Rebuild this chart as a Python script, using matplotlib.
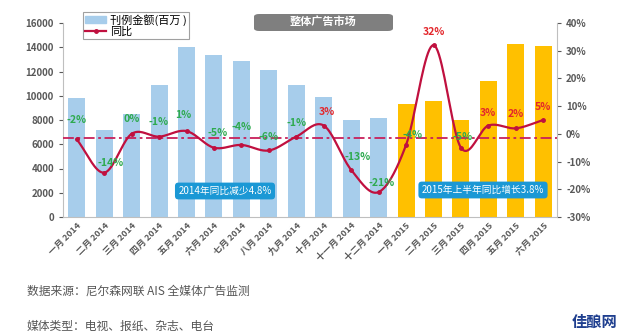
import matplotlib
matplotlib.use("Agg")
import matplotlib.pyplot as plt
import numpy as np
from matplotlib.patches import Patch, FancyBboxPatch
from matplotlib.lines import Line2D

plt.rcParams['font.family'] = ['Noto Sans CJK SC', 'DejaVu Sans']

# 数据
months = ['一月 2014', '二月 2014', '三月 2014', '四月 2014', '五月 2014', '六月 2014',
          '七月 2014', '八月 2014', '九月 2014', '十月 2014', '十一月 2014', '十二月 2014',
          '一月 2015', '二月 2015', '三月 2015', '四月 2015', '五月 2015', '六月 2015']
amount = [9800, 7200, 8500, 10900, 14000, 13400, 12900, 12100, 10900,
          9900, 8000, 8200, 9300, 9600, 8000, 11200, 14300, 14100]
yoy = [-2, -14, 0, -1, 1, -5, -4, -6, -1, 3, -13, -21, -4, 32, -5, 3, 2, 5]
yoy_labels = ['-2%', '-14%', '0%', '-1%', '1%', '-5%', '-4%', '-6%', '-1%', '3%',
              '-13%', '-21%', '-4%', '32%', '-5%', '3%', '2%', '5%']
year = [2014] * 12 + [2015] * 6

# 标签偏移 (像素)
lab_dx = [0, 6, 0, 0, -3, 4, 0, 0, 0, 3, 6, 3, 7, 0, 2, 0, 0, 0]
lab_dy = [19, 10, 15, 15, 16, 15, 18, 13, 14, 14, 13, 9, 10, 13, 11, 13, 14, 13]

blue = '#A7CDEB'
gold = '#FFC000'
line_c = '#C0103F'


def smooth(x, y, n=20):
    # Catmull-Rom 平滑曲线 (类似 Excel 平滑线)
    x = np.asarray(x, float)
    y = np.asarray(y, float)
    px = np.concatenate([[2 * x[0] - x[1]], x, [2 * x[-1] - x[-2]]])
    py = np.concatenate([[2 * y[0] - y[1]], y, [2 * y[-1] - y[-2]]])
    xs, ys = [], []
    t = np.linspace(0, 1, n, endpoint=False)
    for i in range(1, len(px) - 2):
        for p, out in ((px, xs), (py, ys)):
            p0, p1, p2, p3 = p[i - 1], p[i], p[i + 1], p[i + 2]
            out.extend(0.5 * ((2 * p1) + (-p0 + p2) * t
                              + (2 * p0 - 5 * p1 + 4 * p2 - p3) * t ** 2
                              + (-p0 + 3 * p1 - 3 * p2 + p3) * t ** 3))
    xs.append(x[-1])
    ys.append(y[-1])
    return np.array(xs), np.array(ys)


fig = plt.figure(figsize=(6.4, 3.35), dpi=100)
ax = fig.add_axes([63 / 640, 1 - 217 / 335, 494 / 640, 194 / 335])
ax2 = ax.twinx()

x = np.arange(len(months))
colors = [blue if y == 2014 else gold for y in year]
ax.bar(x, amount, width=0.62, color=colors, zorder=2)
ax.set_ylim(0, 16000)
ax.set_yticks(range(0, 16001, 2000))
ax.set_xlim(-0.5, len(months) - 0.5)
ax.set_xticks(x)
ax.set_xticklabels(months, rotation=45, ha='right', rotation_mode='anchor',
                   fontsize=6.5, color='#595959', fontweight='bold')
ax.tick_params(axis='y', labelsize=7, colors='#595959', length=3)
ax.tick_params(axis='x', length=0, pad=3)
for lab in ax.get_yticklabels():
    lab.set_fontweight('bold')

ax2.set_ylim(-30, 40)
ax2.set_yticks(range(-30, 41, 10))
ax2.set_yticklabels([f'{v}%' for v in range(-30, 41, 10)])
ax2.tick_params(axis='y', labelsize=7, colors='#595959', length=3)
for lab in ax2.get_yticklabels():
    lab.set_fontweight('bold')

for a in (ax, ax2):
    a.spines['top'].set_visible(False)
    for s in ('left', 'right', 'bottom'):
        a.spines[s].set_color('#BFBFBF')
ax.spines['right'].set_visible(False)
ax2.spines['left'].set_visible(False)
ax2.spines['bottom'].set_visible(False)

ax2.axhline(-1.5, color='#C8205A', lw=1.3, ls=(0, (6, 2, 1.5, 2)), zorder=1)

sx, sy = smooth(x, yoy)
ax2.plot(sx, sy, color=line_c, lw=1.6, zorder=3)
ax2.plot(x, yoy, 'o', color=line_c, ms=2.5, zorder=4)

for i, (v, t) in enumerate(zip(yoy, yoy_labels)):
    c = '#E3262B' if v >= 2 else '#2EAA4F'
    ax2.annotate(t, (x[i], v), xytext=(lab_dx[i] * 0.72, lab_dy[i] * 0.72),
                 textcoords='offset points', ha='center', va='center',
                 fontsize=7.5, fontweight='bold', color=c, zorder=5)

# 标题框
fig.patches.append(FancyBboxPatch((254 / 640, 1 - 31 / 335), 139 / 640, 17 / 335,
                                  boxstyle='round,pad=0,rounding_size=0.008',
                                  transform=fig.transFigure, fc='#7F7F7F', ec='none'))
fig.text(323 / 640, 1 - 22 / 335, '整体广告市场', ha='center', va='center',
         fontsize=8, color='white', fontweight='bold')

# 注释框
fig.text(225 / 640, 1 - 191 / 335, '2014年同比减少4.8%', ha='center', va='center',
         fontsize=7, color='white',
         bbox=dict(boxstyle='round,pad=0.35', fc='#1B98D5', ec='none'))
fig.text(483 / 640, 1 - 190 / 335, '2015年上半年同比增长3.8%', ha='center', va='center',
         fontsize=7, color='white',
         bbox=dict(boxstyle='round,pad=0.35', fc='#1B98D5', ec='none'))

# 图例
handles = [Patch(color=blue), Line2D([], [], color=line_c, lw=1.6, marker='o', ms=2.5)]
fig.legend(handles, ['刊例金额(百万 )', '同比'], loc='upper left',
           bbox_to_anchor=(83 / 640, 1 - 12 / 335), fontsize=8, fancybox=False,
           edgecolor='#A0A0A0', framealpha=1, borderpad=0.2, labelspacing=0.05,
           handlelength=1.9, handleheight=0.6, handletextpad=0.3, borderaxespad=0)
fig.legends[-1].get_frame().set_linewidth(0.8)

# 数据来源
fig.text(27 / 640, 1 - 291 / 335, '数据来源：尼尔森网联 AIS 全媒体广告监测',
         ha='left', va='center', fontsize=8.5, color='#555555')
fig.text(27 / 640, 1 - 326 / 335, '媒体类型：电视、报纸、杂志、电台',
         ha='left', va='center', fontsize=8.5, color='#555555')
fig.text(595 / 640, 1 - 322 / 335, '佳酿网', ha='center', va='center',
         fontsize=11, color='#1F3F8F', fontweight='bold')

fig.savefig('out.png', dpi=100, facecolor='white')
